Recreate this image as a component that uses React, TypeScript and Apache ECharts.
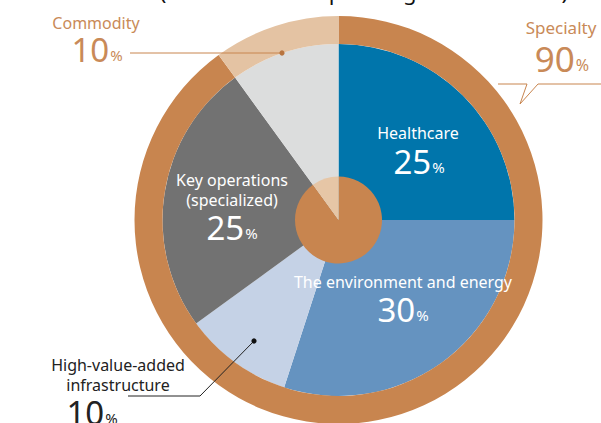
import React, { useEffect, useRef } from "react";
import * as echarts from "echarts";

// ---- data ----
const segmentNames = [
  "Healthcare",
  "The environment and energy",
  "High-value-added infrastructure",
  "Key operations (specialized)",
  "Commodity",
];
const segmentValues = [25, 30, 10, 25, 10];
const segmentLabelLines = [
  ["Healthcare"],
  ["The environment and energy"],
  ["High-value-added", "infrastructure"],
  ["Key operations", "(specialized)"],
  ["Commodity"],
];
const groupNames = ["Specialty", "Commodity"];
const groupValues = [90, 10];
const titleText = "(Breakdown of operating income share)";

// ---- styles / layout ----
const CX = 338.5;
const CY = 220;
const segmentColors = ["#0075ab", "#6593c0", "#c5d2e6", "#727272", "#dcdddd"];
const groupColors = ["#c8854f", "#e4c3a3"];
const centerColors = ["#c8854f", "#e6c6a6"];
const ORANGE_TEXT = "#c98a58";
const FONT = "'Noto Sans', 'Open Sans', sans-serif";

// label anchor positions per segment: [nameX, nameY, pctX, pctY, color]
const segmentLabelPos: [number, number, number, number, string][] = [
  [418, 133, 419, 161, "#ffffff"],
  [403, 282, 403, 309, "#ffffff"],
  [118, 365, 92, 412, "#222222"],
  [232, 180, 232, 227, "#ffffff"],
  [96, 23, 97, 49, ORANGE_TEXT],
];
const groupLabelPos: [number, number, number, number, number][] = [
  [561, 27, 562, 58, 35],
];

function pctText(v: number) {
  return `{n|${v}}{p|%}`;
}

export default function App() {
  const ref = useRef<HTMLDivElement>(null);
  useEffect(() => {
    if (!ref.current) return;
    const chart = echarts.init(ref.current, undefined, { renderer: "svg" });

    const graphics: any[] = [];
    // title (mostly clipped at the top)
    graphics.push({
      type: "text",
      style: {
        text: titleText,
        x: 364,
        y: -9,
        align: "center",
        verticalAlign: "middle",
        font: `22px ${FONT}`,
        fill: "#111",
      },
    });

    segmentLabelLines.forEach((lines, i) => {
      const [nx, ny, px, py, color] = segmentLabelPos[i];
      lines.forEach((ln, k) => {
        graphics.push({
          type: "text",
          z: 10,
          style: {
            text: ln,
            x: nx,
            y: ny + k * 20,
            align: "center",
            verticalAlign: "middle",
            font: `16px ${FONT}`,
            fill: color,
          },
        });
      });
      graphics.push({
        type: "text",
        z: 10,
        style: {
          text: pctText(segmentValues[i]),
          x: px,
          y: py,
          align: "center",
          verticalAlign: "middle",
          fill: color,
          rich: {
            n: { fontSize: 33, fontFamily: FONT, fill: color, verticalAlign: "bottom" },
            p: { fontSize: 15, fontFamily: FONT, fill: color, verticalAlign: "bottom", padding: [0, 0, 3, 1] },
          },
        },
      });
    });

    groupLabelPos.forEach(([nx, ny, px, py, fs], i) => {
      graphics.push({
        type: "text",
        z: 10,
        style: {
          text: groupNames[i],
          x: nx,
          y: ny,
          align: "center",
          verticalAlign: "middle",
          font: `17px ${FONT}`,
          fill: ORANGE_TEXT,
        },
      });
      graphics.push({
        type: "text",
        z: 10,
        style: {
          text: pctText(groupValues[i]),
          x: px,
          y: py,
          align: "center",
          verticalAlign: "middle",
          rich: {
            n: { fontSize: fs, fontFamily: FONT, fill: ORANGE_TEXT, verticalAlign: "bottom" },
            p: { fontSize: 16, fontFamily: FONT, fill: ORANGE_TEXT, verticalAlign: "bottom", padding: [0, 0, 3, 1] },
          },
        },
      });
    });

    // leader lines
    graphics.push({
      type: "polyline",
      z: 10,
      shape: { points: [[130, 53], [282, 53]] },
      style: { stroke: "#c8854f", lineWidth: 1, fill: "none" },
    });
    graphics.push({
      type: "circle",
      z: 10,
      shape: { cx: 282, cy: 53, r: 2.6 },
      style: { fill: "#b8743f" },
    });
    graphics.push({
      type: "polyline",
      z: 10,
      shape: { points: [[254, 341], [200, 396], [128, 396]] },
      style: { stroke: "#222", lineWidth: 1, fill: "none" },
    });
    graphics.push({
      type: "circle",
      z: 10,
      shape: { cx: 254, cy: 341, r: 2.6 },
      style: { fill: "#111" },
    });
    graphics.push({
      type: "polyline",
      z: 10,
      shape: { points: [[498, 84], [527, 84], [520, 104], [538, 84], [610, 84]] },
      style: { stroke: "#c8854f", lineWidth: 1, fill: "none" },
    });

    const common = {
      type: "pie",
      center: [CX, CY],
      startAngle: 90,
      clockwise: true,
      silent: true,
      label: { show: false },
      labelLine: { show: false },
      emphasis: { disabled: true },
      avoidLabelOverlap: false,
    };

    chart.setOption({
      animation: false,
      series: [
        {
          ...common,
          name: "segments",
          radius: [0, 176],
          z: 2,
          data: segmentNames.map((n, i) => ({
            name: n,
            value: segmentValues[i],
            itemStyle: { color: segmentColors[i] },
          })),
        },
        {
          ...common,
          name: "groups",
          radius: [176, 204],
          z: 2,
          data: groupNames.map((n, i) => ({
            name: n,
            value: groupValues[i],
            itemStyle: { color: groupColors[i] },
          })),
        },
        {
          ...common,
          name: "center",
          radius: [0, 43.5],
          z: 3,
          data: groupNames.map((n, i) => ({
            name: n,
            value: groupValues[i],
            itemStyle: { color: centerColors[i] },
          })),
        },
      ],
      graphic: graphics,
    });
    return () => chart.dispose();
  }, []);
  return (
    <div
      ref={ref}
      style={{ position: "fixed", left: 0, top: 0, width: 601, height: 423, background: "#fff" }}
    />
  );
}
